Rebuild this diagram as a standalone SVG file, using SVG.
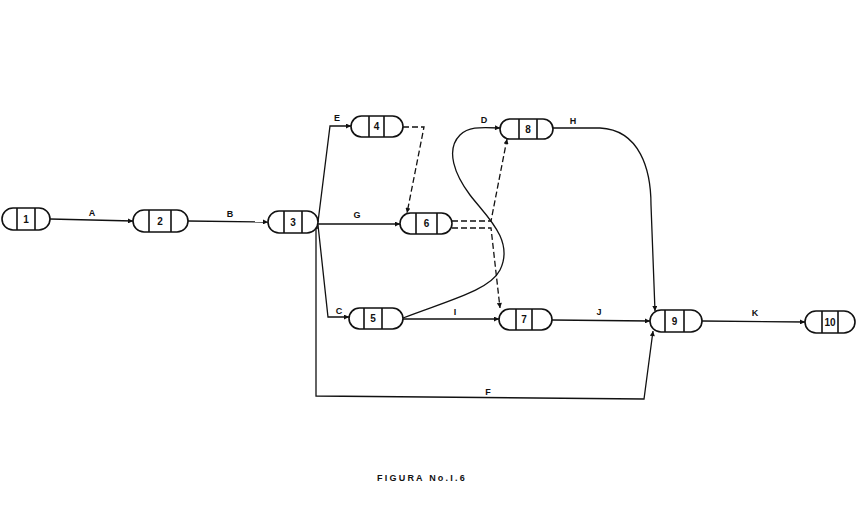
<svg xmlns="http://www.w3.org/2000/svg" width="868" height="512" viewBox="0 0 868 512">
<style>
.n{fill:#fff;stroke:#111;stroke-width:1.6}
.d{stroke:#111;stroke-width:1.6}
.t{font-family:"Liberation Sans",Arial,sans-serif;font-weight:bold;font-size:10px;fill:#111;text-anchor:middle}
.e{fill:none;stroke:#111;stroke-width:1.3}
.ds{fill:none;stroke:#111;stroke-width:1.3;stroke-dasharray:6,3}
.l{font-family:"Liberation Sans",Arial,sans-serif;font-weight:bold;font-size:9px;fill:#111;text-anchor:middle}
</style>
<defs>
<marker id="ar" viewBox="0 0 10 10" refX="10" refY="5" markerWidth="7" markerHeight="5" orient="auto" markerUnits="userSpaceOnUse">
<path d="M0,0 L10,5 L0,10 z" fill="#111"/>
</marker>
</defs>
<rect width="868" height="512" fill="#fff"/>
<g id="connectors">
<line class="e" x1="50" y1="219" x2="133" y2="221" marker-end="url(#ar)"/>
<line class="e" x1="188" y1="221" x2="268" y2="222" marker-end="url(#ar)"/>
<polyline class="e" points="318,222 330,126 351,126" marker-end="url(#ar)"/>
<line class="e" x1="318" y1="224" x2="400" y2="224" marker-end="url(#ar)"/>
<polyline class="e" points="318,225 328,317 349,317" marker-end="url(#ar)"/>
<polyline class="e" points="318,228 316,228 316,396 644,399 653,331" marker-end="url(#ar)"/>
<polyline class="ds" points="403,127 424,127 407,213" marker-end="url(#ar)"/>
<polyline class="ds" points="452,221 491,221 507,139" marker-end="url(#ar)"/>
<polyline class="ds" points="452,228 491,228 500,308" marker-end="url(#ar)"/>
<path class="e" d="M403,318 C450,300 490,290 500,270 C515,240 485,215 470,195 C455,175 445,150 460,135 C468,127 478,127 500,128" marker-end="url(#ar)"/>
<line class="e" x1="403" y1="319" x2="499" y2="319" marker-end="url(#ar)"/>
<line class="e" x1="552" y1="320" x2="650" y2="321" marker-end="url(#ar)"/>
<path class="e" d="M553,128 L600,128 C640,130 651,170 651,205 L655,311" marker-end="url(#ar)"/>
<line class="e" x1="702" y1="321" x2="805" y2="322" marker-end="url(#ar)"/>
</g>
<g id="labels">
<text class="l" x="92" y="216">A</text>
<text class="l" x="230" y="217">B</text>
<text class="l" x="337" y="121">E</text>
<text class="l" x="357" y="218">G</text>
<text class="l" x="339" y="314">C</text>
<text class="l" x="488" y="395">F</text>
<text class="l" x="484" y="123">D</text>
<text class="l" x="573" y="124">H</text>
<text class="l" x="455" y="315">I</text>
<text class="l" x="599" y="315">J</text>
<text class="l" x="755" y="316">K</text>
</g>
<g id="n1"><rect class="n" x="2" y="208" width="48" height="22" rx="11"/><line class="d" x1="17" y1="208" x2="17" y2="230"/><line class="d" x1="35" y1="208" x2="35" y2="230"/><text class="t" x="26" y="222.5">1</text></g>
<g id="n2"><rect class="n" x="133" y="210" width="55" height="22" rx="11"/><line class="d" x1="149" y1="210" x2="149" y2="232"/><line class="d" x1="171" y1="210" x2="171" y2="232"/><text class="t" x="160" y="224.5">2</text></g>
<g id="n3"><rect class="n" x="268" y="211" width="50" height="22" rx="11"/><line class="d" x1="284" y1="211" x2="284" y2="233"/><line class="d" x1="302" y1="211" x2="302" y2="233"/><text class="t" x="293" y="225.5">3</text></g>
<g id="n4"><rect class="n" x="351" y="116" width="52" height="21" rx="10.5"/><line class="d" x1="369" y1="116" x2="369" y2="137"/><line class="d" x1="384" y1="116" x2="384" y2="137"/><text class="t" x="376.5" y="130">4</text></g>
<g id="n6"><rect class="n" x="400" y="213" width="52" height="21" rx="10.5"/><line class="d" x1="416" y1="213" x2="416" y2="234"/><line class="d" x1="437" y1="213" x2="437" y2="234"/><text class="t" x="426.5" y="227">6</text></g>
<g id="n8"><rect class="n" x="500" y="119" width="53" height="20" rx="10"/><line class="d" x1="519" y1="119" x2="519" y2="139"/><line class="d" x1="537" y1="119" x2="537" y2="139"/><text class="t" x="528" y="132.5">8</text></g>
<g id="n5"><rect class="n" x="349" y="308" width="54" height="21" rx="10.5"/><line class="d" x1="364" y1="308" x2="364" y2="329"/><line class="d" x1="382" y1="308" x2="382" y2="329"/><text class="t" x="373" y="322">5</text></g>
<g id="n7"><rect class="n" x="499" y="309" width="53" height="21" rx="10.5"/><line class="d" x1="516" y1="309" x2="516" y2="330"/><line class="d" x1="532" y1="309" x2="532" y2="330"/><text class="t" x="524" y="323">7</text></g>
<g id="n9"><rect class="n" x="650" y="310" width="52" height="22" rx="11"/><line class="d" x1="665" y1="310" x2="665" y2="332"/><line class="d" x1="684" y1="310" x2="684" y2="332"/><text class="t" x="674.5" y="324.5">9</text></g>
<g id="n10"><rect class="n" x="805" y="311" width="50" height="22" rx="11"/><line class="d" x1="822" y1="311" x2="822" y2="333"/><line class="d" x1="838" y1="311" x2="838" y2="333"/><text class="t" x="830" y="325.5">10</text></g>
<text x="422" y="481" style="font-family:'Liberation Sans',Arial,sans-serif;font-weight:bold;font-size:9px;fill:#111;letter-spacing:2.2px;text-anchor:middle">FIGURA No.I.6</text>
</svg>
